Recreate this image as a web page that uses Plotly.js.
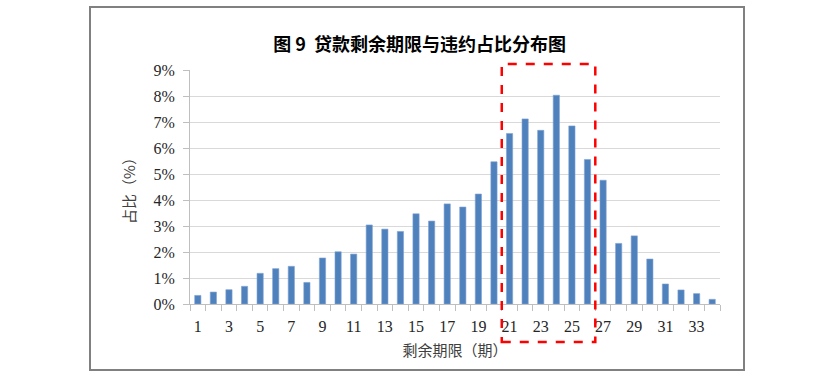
<!DOCTYPE html>
<html>
<head>
<meta charset="utf-8">
<script src="https://cdn.plot.ly/plotly-3.0.1.min.js"></script>
<style>
html,body{margin:0;padding:0;background:#fff;}
#chart{width:818px;height:378px;}
</style>
</head>
<body>
<div id="chart"></div>
<script>
// Remaining term (period) categories
const periods = [1,2,3,4,5,6,7,8,9,10,11,12,13,14,15,16,17,18,19,20,21,22,23,24,25,26,27,28,29,30,31,32,33,34];
// Default share (%) per remaining term
const shares = [0.33,0.46,0.55,0.68,1.18,1.36,1.45,0.83,1.77,2.01,1.92,3.04,2.88,2.79,3.47,3.19,3.85,3.73,4.23,5.47,6.56,7.12,6.68,8.03,6.85,5.56,4.76,2.33,2.62,1.73,0.77,0.54,0.40,0.18];
// Labelled x ticks
const xTickVals = [1,3,5,7,9,11,13,15,17,19,21,23,25,27,29,31,33];
const xTickText = xTickVals.map(String);
// Highlighted range of periods
const highlightFrom = 21, highlightTo = 26;

const serif = '"Liberation Serif","Times New Roman",serif';
const cjk = '"Noto Sans CJK SC","Noto Sans",sans-serif';

const xMin = 0.5, xMax = periods.length + 0.5;
const yMax = 9;

const trace = {
  type: 'bar',
  x: periods,
  y: shares,
  marker: {color: '#4f81bd', line: {color: '#7fa3d3', width: 0.6}},
  hoverinfo: 'x+y'
};

const layout = {
  width: 818, height: 378,
  margin: {l: 190, r: 98, t: 70, b: 74},
  paper_bgcolor: '#fff', plot_bgcolor: '#fff',
  showlegend: false,
  bargap: 0.6,
  title: {
    text: '<b>图 9  贷款剩余期限与违约占比分布图</b>',
    font: {family: cjk, size: 18, color: '#000'},
    xref: 'container', x: 0.513, xanchor: 'center',
    yref: 'container', y: 1 - 45/378, yanchor: 'middle'
  },
  xaxis: {
    type: 'linear',
    range: [xMin, xMax],
    tickmode: 'array', tickvals: xTickVals, ticktext: xTickText,
    ticks: '',
    ticklabelstandoff: 8,
    tickfont: {family: serif, size: 16, color: '#262626'},
    showline: true, linecolor: '#bfbfbf', linewidth: 1,
    showgrid: false, zeroline: false,
    minor: {ticks: 'outside', tick0: 0.5, dtick: 1, ticklen: 6, tickcolor: '#bfbfbf', tickwidth: 1, showgrid: false},
    title: {text: '剩余期限（期）', font: {family: cjk, size: 15, color: '#404040'}, standoff: 11}
  },
  yaxis: {
    range: [0, yMax], dtick: 1, tick0: 0,
    ticksuffix: '%',
    ticks: 'outside', ticklen: 6, tickcolor: '#bfbfbf',
    ticklabelstandoff: 5,
    tickfont: {family: serif, size: 16, color: '#262626'},
    showline: true, linecolor: '#bfbfbf', linewidth: 1,
    showgrid: true, gridcolor: '#d9d9d9', gridwidth: 1,
    zeroline: false,
    title: {text: '占比（%）', font: {family: cjk, size: 15, color: '#404040'}, standoff: 14}
  },
  shapes: [
    {
      type: 'rect', xref: 'paper', yref: 'paper',
      x0: (highlightFrom - 0.5 - xMin) / (xMax - xMin),
      x1: (highlightTo + 0.5 - xMin) / (xMax - xMin),
      y0: -1.46 / yMax, y1: 9.23 / yMax,
      line: {color: '#ff0000', width: 2.5, dash: 'dash'},
      fillcolor: 'rgba(0,0,0,0)'
    },
    {
      type: 'rect', xref: 'paper', yref: 'paper',
      x0: (90-190)/530, x1: (744-190)/530, y0: (304-370)/234, y1: (304-7)/234,
      line: {color: '#808080', width: 2},
      fillcolor: 'rgba(0,0,0,0)', layer: 'below'
    }
  ]
};

Plotly.newPlot('chart', [trace], layout, {displayModeBar: false, staticPlot: true});
</script>
</body>
</html>
